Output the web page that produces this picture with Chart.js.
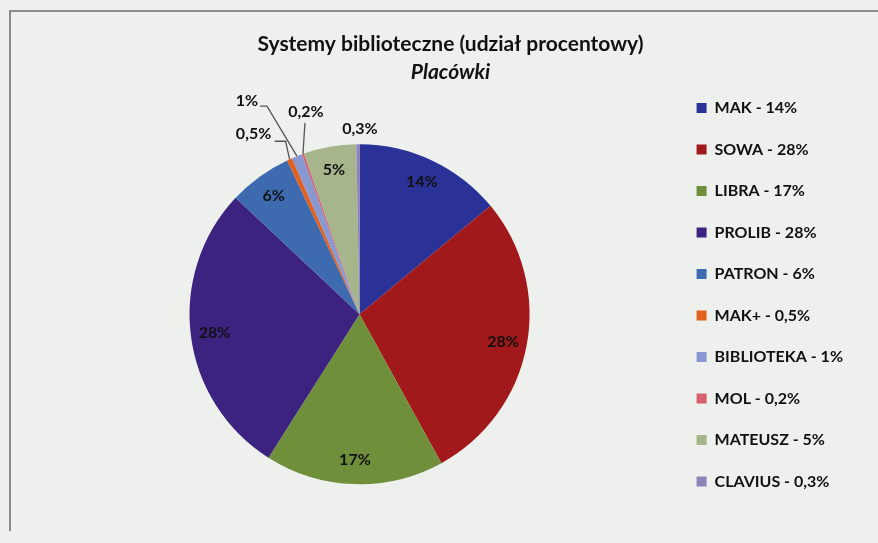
<!DOCTYPE html>
<html>
<head>
<meta charset="utf-8">
<script src="https://cdn.jsdelivr.net/npm/chart.js@4.4.1/dist/chart.umd.min.js"></script>
<style>
  html, body { margin: 0; padding: 0; background: #eef0ee; }
  #wrap { position: relative; width: 878px; height: 543px; overflow: hidden; }
  #frame { position: absolute; left: 9px; top: 10px; right: -5px; bottom: 12px;
           border-top: 2px solid #8c8c8c; border-left: 2px solid #8c8c8c; }
  canvas { position: absolute; left: 0; top: 0; }
</style>
</head>
<body>
<div id="wrap">
  <div id="frame"></div>
  <canvas id="chart" width="878" height="543"></canvas>
</div>
<script>
const categories = ['MAK', 'SOWA', 'LIBRA', 'PROLIB', 'PATRON', 'MAK+', 'BIBLIOTEKA', 'MOL', 'MATEUSZ', 'CLAVIUS'];
const shares = [14, 28, 17, 28, 6, 0.5, 1, 0.2, 5, 0.3];
const shareLabels = ['14%', '28%', '17%', '28%', '6%', '0,5%', '1%', '0,2%', '5%', '0,3%'];
const colors = ['#2a3298', '#a1191a', '#6f8f3b', '#3d2380', '#3e6bb0', '#e2601c', '#8a98d2', '#d8606e', '#a6b58c', '#8e82ba'];

const FONT = 'Lato, "Open Sans", sans-serif';

// labels of the thin slices: text offset and leader bends, relative to the slice's rim point
const outsideLabels = {
  'MAK+':       { text: [-36, -25], leader: [[-4, -18], [-15, -18]] },
  'BIBLIOTEKA': { text: [-50, -55], leader: [[-30, -50], [-37, -50]] },
  'MOL':        { text: [3, -42],   leader: [[2, -31]] },
  'CLAVIUS':    { text: [2, -15],   leader: [] }
};

const sliceLabels = {
  id: 'sliceLabels',
  afterDatasetsDraw(chart) {
    const ctx = chart.ctx;
    const meta = chart.getDatasetMeta(0);
    ctx.save();
    ctx.font = 'bold 16px ' + FONT;
    ctx.fillStyle = '#111';
    ctx.textAlign = 'center';
    ctx.textBaseline = 'middle';
    meta.data.forEach((arc, i) => {
      const p = arc.getProps(['x', 'y', 'startAngle', 'endAngle', 'outerRadius']);
      const mid = (p.startAngle + p.endAngle) / 2;
      const cos = Math.cos(mid), sin = Math.sin(mid);
      const out = outsideLabels[categories[i]];
      if (!out) {
        const r = p.outerRadius * 0.86;
        ctx.fillText(shareLabels[i], p.x + cos * r, p.y + sin * r);
        return;
      }
      const ex = p.x + cos * p.outerRadius, ey = p.y + sin * p.outerRadius;
      if (out.leader.length) {
        ctx.strokeStyle = '#555';
        ctx.lineWidth = 1.3;
        ctx.beginPath();
        ctx.moveTo(ex, ey);
        out.leader.forEach(pt => ctx.lineTo(ex + pt[0], ey + pt[1]));
        ctx.stroke();
      }
      ctx.fillText(shareLabels[i], ex + out.text[0], ey + out.text[1]);
    });
    ctx.restore();
  }
};

new Chart(document.getElementById('chart'), {
  type: 'pie',
  data: {
    labels: categories.map((c, i) => c + ' - ' + shareLabels[i]),
    datasets: [{
      data: shares,
      backgroundColor: colors,
      borderWidth: 0,
      radius: 170
    }]
  },
  options: {
    responsive: false,
    animation: false,
    layout: { padding: { left: 48, right: 25, top: 0, bottom: 0 } },
    plugins: {
      title: {
        display: true,
        text: 'Systemy biblioteczne (udział procentowy)',
        color: '#111',
        font: { family: FONT, size: 21, weight: 'bold' },
        padding: { top: 32, bottom: 2 }
      },
      subtitle: {
        display: true,
        text: 'Placówki',
        color: '#111',
        font: { family: FONT, size: 21, weight: 'bold', style: 'italic' },
        padding: { top: 0, bottom: 1 }
      },
      legend: {
        position: 'right',
        title: { display: true, text: '', font: { size: 10 }, padding: { top: 34.5, bottom: 0 } },
        labels: {
          boxWidth: 10,
          boxHeight: 10,
          padding: 25.5,
          color: '#111',
          font: { family: FONT, size: 16, weight: 'bold' }
        }
      },
      tooltip: { enabled: false }
    }
  },
  plugins: [sliceLabels]
});
</script>
</body>
</html>
